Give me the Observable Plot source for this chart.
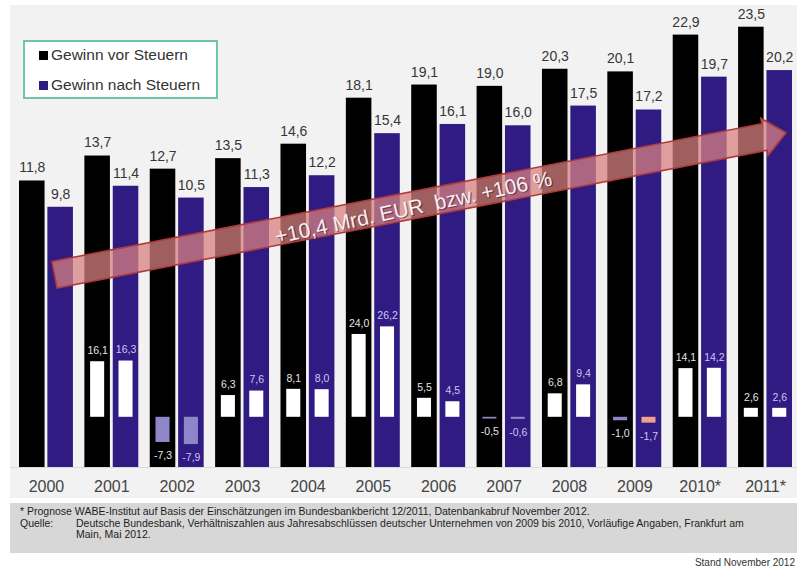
<!DOCTYPE html>
<html>
<head>
<meta charset="utf-8">
<script src="https://cdn.jsdelivr.net/npm/d3@7"></script>
<script src="https://cdn.jsdelivr.net/npm/@observablehq/plot@0.6"></script>
<style>
  html, body { margin: 0; padding: 0; background: #fff; }
  body { width: 797px; height: 567px; overflow: hidden; position: relative; font-family: "Liberation Sans", Arial, sans-serif; }
  .abs { position: absolute; }
  #legend { left: 23px; top: 40px; width: 191px; height: 55px; border: 2px solid #6cc8a2; background: #fff; }
  .sw { position: absolute; width: 9px; height: 9px; }
  .lt { position: absolute; font-size: 15.5px; color: #333; white-space: nowrap; line-height: 18px; }
  #note { left: 10px; top: 503px; width: 787px; height: 50px; background: #d7d7d7; }
  .nl { position: absolute; font-size: 10.5px; color: #1e1e1e; white-space: nowrap; line-height: 12px; }
  #stand { right: 2px; top: 556px; font-family: "Liberation Sans Narrow", "Liberation Sans", sans-serif; font-size: 10px; color: #333; white-space: nowrap; line-height: 13px; }
</style>
</head>
<body>
<div class="abs" style="left:10px; top:5px; width:787px; height:493px; background:#f2f2f2"></div>
<div class="abs" style="left:10px; top:467px; width:787px; height:1px; background:#dadada"></div>
<div id="chart" class="abs" style="left:0; top:0"></div>
<div id="legend" class="abs"></div>
<div id="note" class="abs"></div>
<div id="stand" class="abs"></div>
<script>
// ---- data ----
const years = ["2000","2001","2002","2003","2004","2005","2006","2007","2008","2009","2010*","2011*"];
const gewinnVorSteuern  = [11.8, 13.7, 12.7, 13.5, 14.6, 18.1, 19.1, 19.0, 20.3, 20.1, 22.9, 23.5];
const gewinnNachSteuern = [ 9.8, 11.4, 10.5, 11.3, 12.2, 15.4, 16.1, 16.0, 17.5, 17.2, 19.7, 20.2];
// Veränderung gegenüber Vorjahr in %
const veraenderungVor  = [null, 16.1, -7.3, 6.3, 8.1, 24.0, 5.5, -0.5, 6.8, -1.0, 14.1, 2.6];
const veraenderungNach = [null, 16.3, -7.9, 7.6, 8.0, 26.2, 4.5, -0.6, 9.4, -1.7, 14.2, 2.6];
const seriesKeys = ["vor", "nach"];
const seriesLabels = ["Gewinn vor Steuern", "Gewinn nach Steuern"];
const arrowLabel = "+10,4 Mrd. EUR  bzw. +106 %";
const footnotes = [
  "* Prognose WABE-Institut auf Basis der Einschätzungen im Bundesbankbericht 12/2011, Datenbankabruf November 2012.",
  "Quelle:",
  "Deutsche Bundesbank, Verhältniszahlen aus Jahresabschlüssen deutscher Unternehmen von 2009 bis 2010, Vorläufige Angaben, Frankfurt am",
  "Main, Mai 2012."
];
const standText = "Stand November 2012";

// ---- build ----
const BLACK = "#000000", PURPLE = "#2f1b82", LILAC = "#8d86c9", SALMON = "#f0a090";
const rows = years.flatMap((year, i) => [
  {year, series: "vor",  value: gewinnVorSteuern[i],  pct: veraenderungVor[i]},
  {year, series: "nach", value: gewinnNachSteuern[i], pct: veraenderungNach[i]}
]);
const pctRows = rows.filter(d => d.pct != null);
const fmt = v => v.toFixed(1).replace(".", ",");
// secondary (percent) scale expressed in the main y domain
const PCT0 = -6.18, PCTK = 0.2626;
const pv = p => PCT0 + PCTK * p;
const negFill = d => (d.year === "2009" && d.series === "nach") ? SALMON : LILAC;
const pctTextFill = d => d.series === "vor" ? "#e4e4e4" : "#cdc6f2";

const chart = Plot.plot({
  width: 797, height: 500,
  marginLeft: 19, marginRight: 5, marginTop: 7, marginBottom: 33,
  style: {background: "transparent", fontFamily: "Liberation Sans, Arial, sans-serif", overflow: "visible"},
  fx: {domain: years, paddingInner: 0.175, paddingOuter: 0, round: false, label: null},
  x: {domain: seriesKeys, paddingInner: 0.1, paddingOuter: 0, round: false, axis: null},
  y: {domain: [-10, 25], axis: null},
  color: {domain: seriesKeys, range: [BLACK, PURPLE]},
  marks: [
    Plot.barY(rows, {fx: "year", x: "series", y1: -10, y2: "value", fill: "series"}),
    Plot.text(rows, {fx: "year", x: "series", y: "value", text: d => fmt(d.value), dy: -13, lineAnchor: "middle", fontSize: 14, fill: "#363636"}),
    Plot.barY(pctRows.filter(d => d.pct >= 0), {fx: "year", x: "series", y1: pv(0), y2: d => pv(d.pct), fill: "#ffffff", insetLeft: 5.75, insetRight: 5.75}),
    Plot.barY(pctRows.filter(d => d.pct < 0), {fx: "year", x: "series", y1: pv(0), y2: d => pv(d.pct), fill: negFill, insetLeft: 5.75, insetRight: 5.75}),
    Plot.text(pctRows.filter(d => d.pct >= 0), {fx: "year", x: "series", y: d => pv(d.pct), text: d => fmt(d.pct), dy: -11, lineAnchor: "middle", fontSize: 10.5, fill: pctTextFill}),
    Plot.text(pctRows.filter(d => d.pct < 0), {fx: "year", x: "series", y: d => pv(d.pct), text: d => fmt(d.pct), dy: 13, lineAnchor: "middle", fontSize: 10.5, fill: pctTextFill}),
    Plot.axisFx({anchor: "bottom", tickSize: 0, tickPadding: 13, fontSize: 16, color: "#444", label: null})
  ]
});
document.getElementById("chart").appendChild(chart);

// ---- trend arrow annotation, anchored to the chart scales ----
(function () {
  const fx = chart.scale("fx"), y = chart.scale("y");
  const x0 = fx.apply(years[0]) + 35.5, y0 = y.apply(4.63);
  const x1 = fx.apply(years[years.length - 1]) + 48, y1 = y.apply(15.43);
  const dx = x1 - x0, dy = y1 - y0;
  const len = Math.hypot(dx, dy), ang = Math.atan2(dy, dx) * 180 / Math.PI;
  const h = 13.5, H = 19, L = 22;
  const pts = [[0, -h], [len - L, -h], [len - L, -H], [len, 0], [len - L, H], [len - L, h], [0, h]];
  const svg = d3.select(chart);
  const g = svg.append("g").attr("transform", `translate(${x0},${y0}) rotate(${ang})`);
  g.append("polygon")
    .attr("points", pts.map(p => p.join(",")).join(" "))
    .attr("fill", "rgba(216,128,128,0.74)")
    .attr("stroke", "#b03a3a").attr("stroke-width", 1.6).attr("stroke-linejoin", "miter");
  const tg = g.append("g").attr("transform", `translate(${len * 0.49},2) rotate(-1)`);
  tg.append("text").text(arrowLabel)
    .attr("x", 1.2).attr("y", 1.2)
    .attr("text-anchor", "middle").attr("dominant-baseline", "central")
    .style("white-space", "pre").attr("font-size", 21).attr("fill", "rgba(70,25,25,0.55)");
  tg.append("text").text(arrowLabel)
    .attr("text-anchor", "middle").attr("dominant-baseline", "central")
    .style("white-space", "pre").attr("font-size", 21).attr("fill", "#f6eef2");
})();

// ---- legend ----
const legend = document.getElementById("legend");
seriesKeys.forEach((k, i) => {
  const sw = document.createElement("div");
  sw.className = "sw";
  sw.style.left = "14px"; sw.style.top = (9 + i * 30) + "px";
  sw.style.background = chart.scale("color").apply(k);
  legend.appendChild(sw);
  const t = document.createElement("div");
  t.className = "lt";
  t.style.left = "26px"; t.style.top = (4 + i * 30) + "px";
  t.textContent = seriesLabels[i];
  legend.appendChild(t);
});

// ---- footnotes ----
const note = document.getElementById("note");
const place = [[10, 2], [10, 14], [66, 14], [66, 25]];
footnotes.forEach((s, i) => {
  const d = document.createElement("div");
  d.className = "nl";
  d.style.left = place[i][0] + "px"; d.style.top = place[i][1] + "px";
  d.textContent = s;
  note.appendChild(d);
});
document.getElementById("stand").textContent = standText;
</script>
</body>
</html>
